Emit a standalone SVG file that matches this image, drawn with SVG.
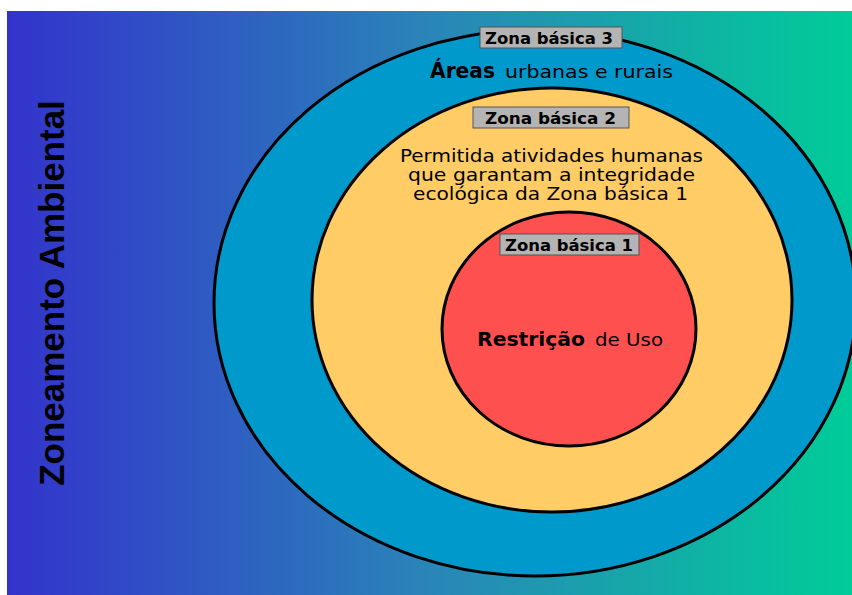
<svg xmlns="http://www.w3.org/2000/svg" width="852" height="595" viewBox="0 0 852 595">
<defs>
<linearGradient id="bg" x1="0" y1="0" x2="1" y2="0">
<stop offset="0" stop-color="#3333cc"/>
<stop offset="0.5" stop-color="#2a85b8"/>
<stop offset="1" stop-color="#00cc99"/>
</linearGradient>
<clipPath id="clip"><rect x="7" y="11" width="845" height="584"/></clipPath>
</defs>
<style>
.ring{stroke:#000;stroke-width:3}
.lbl{fill:#b4b4b4;stroke:#555;stroke-width:1}
.t{font-family:"DejaVu Sans","Liberation Sans",sans-serif;fill:#000}
.b{font-weight:bold}
</style>
<rect x="0" y="0" width="852" height="595" fill="#fff"/>
<rect x="7" y="11" width="845" height="584" fill="url(#bg)"/>
<g id="title">
<text class="t" transform="translate(64,293) rotate(-90)" text-anchor="middle" font-family="Liberation Sans,Arial,sans-serif" font-weight="bold" font-size="35" style="font-family:'Liberation Sans',Arial,sans-serif">Zoneamento Ambiental</text>
</g>
<g clip-path="url(#clip)">
<g id="zona3">
<ellipse class="ring" cx="535" cy="303" rx="321" ry="273" fill="#0099cc"/>
<rect class="lbl" x="480" y="27" width="142" height="21"/>
<text class="t b" x="485" y="44" font-size="16" textLength="128" lengthAdjust="spacingAndGlyphs">Zona básica 3</text>
<text class="t b" x="430" y="78" font-size="21" textLength="65" lengthAdjust="spacingAndGlyphs">Áreas</text>
<text class="t" x="505" y="78" font-size="17" textLength="168" lengthAdjust="spacingAndGlyphs">urbanas e rurais</text>
</g>
<g id="zona2">
<ellipse class="ring" cx="552" cy="300" rx="240" ry="212" fill="#ffcc66"/>
<rect class="lbl" x="473" y="107" width="156" height="21"/>
<text class="t b" x="485" y="124" font-size="16" textLength="131" lengthAdjust="spacingAndGlyphs">Zona básica 2</text>
<text class="t" x="400" y="162" font-size="17" textLength="303" lengthAdjust="spacingAndGlyphs">Permitida atividades humanas</text>
<text class="t" x="408" y="181" font-size="17" textLength="287" lengthAdjust="spacingAndGlyphs">que garantam a integridade</text>
<text class="t" x="413" y="200" font-size="17" textLength="275" lengthAdjust="spacingAndGlyphs">ecológica da Zona básica 1</text>
</g>
<g id="zona1">
<ellipse class="ring" cx="569" cy="329" rx="127" ry="117" fill="#ff5050"/>
<rect class="lbl" x="500" y="234" width="139" height="21"/>
<text class="t b" x="505" y="251" font-size="16" textLength="128" lengthAdjust="spacingAndGlyphs">Zona básica 1</text>
<text class="t b" x="477" y="346" font-size="20" textLength="108" lengthAdjust="spacingAndGlyphs">Restrição</text>
<text class="t" x="595" y="346" font-size="17" textLength="68" lengthAdjust="spacingAndGlyphs">de Uso</text>
</g>
</g>
</svg>
